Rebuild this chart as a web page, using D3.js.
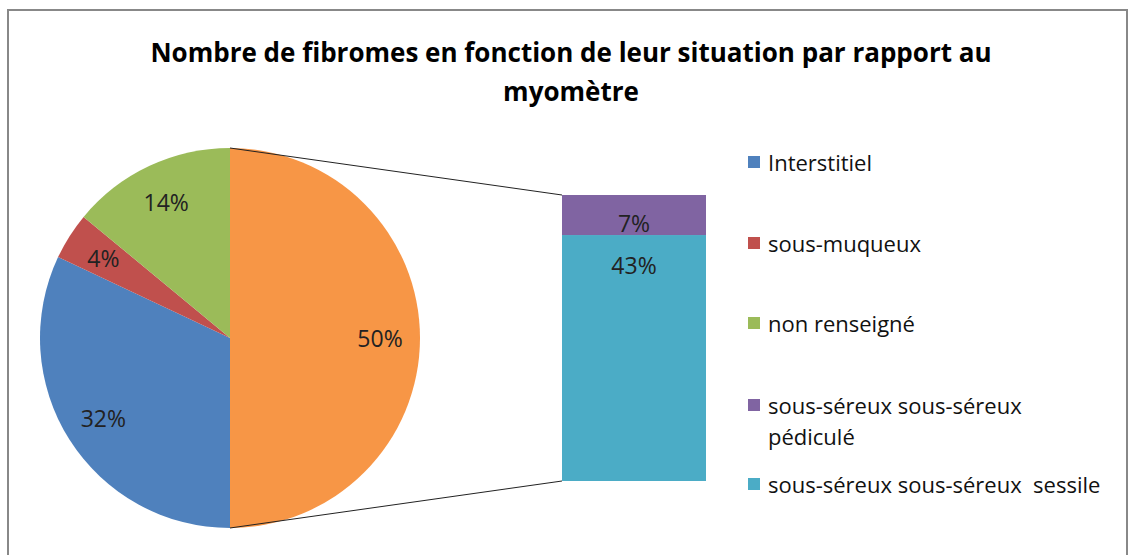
<!DOCTYPE html>
<html>
<head>
<meta charset="utf-8">
<style>
body { margin: 0; background: #fff; }
svg text { font-family: "Open Sans", sans-serif; fill: #000; }
.title { font-size: 26px; font-weight: bold; }
.legend text { font-size: 22px; fill: #111; }
.lbl { font-size: 23px; fill: #222; }
</style>
</head>
<body>
<div id="container"></div>
<script src="https://d3js.org/d3.v7.min.js"></script>
<script>
const width = 1131, height = 555;

// pie slices, clockwise from 12 o'clock ("autre" = the part split into the bar)
const pieNames = ["autre", "Interstitiel", "sous-muqueux", "non renseigné"];
const pieValues = [50, 32, 4, 14];
const pieColors = ["#F79646", "#4F81BD", "#C0504D", "#9BBB59"];

// the bar, bottom to top
const barNames = ["sous-séreux sous-séreux sessile", "sous-séreux sous-séreux pédiculé"];
const barValues = [43, 7];
const barColors = ["#4BACC6", "#8064A2"];

const legendNames = ["Interstitiel", "sous-muqueux", "non renseigné",
  ["sous-séreux sous-séreux", "pédiculé"], "sous-séreux sous-séreux  sessile"];
const legendColors = ["#4F81BD", "#C0504D", "#9BBB59", "#8064A2", "#4BACC6"];

const svg = d3.select('#container').append('svg')
  .attr('width', width).attr('height', height);

// chart frame
svg.append('rect').attr('x', 8).attr('y', 10)
  .attr('width', 1119).attr('height', 560)
  .attr('fill', 'none').attr('stroke', '#888').attr('stroke-width', 2);

const title = svg.append('g').attr('class', 'title');
title.append('text').attr('text-anchor', 'middle')
  .attr('x', 571).attr('y', 62)
  .text('Nombre de fibromes en fonction de leur situation par rapport au');
title.append('text').attr('text-anchor', 'middle')
  .attr('x', 571).attr('y', 101).text('myomètre');

const cx = 230, cy = 338, R = 190;
const pie = d3.pie().sort(null).startAngle(0).endAngle(2 * Math.PI);
const arcs = pie(pieValues);
const arc = d3.arc().innerRadius(0).outerRadius(R);
const lblArc = d3.arc().innerRadius(150).outerRadius(150);

const g = svg.append('g').attr('transform', `translate(${cx},${cy})`);
g.selectAll('path').data(arcs).enter().append('path')
  .attr('d', arc)
  .attr('fill', (d, i) => pieColors[i]);

g.selectAll('text').data(arcs).enter().append('text')
  .attr('class', 'lbl')
  .attr('text-anchor', 'middle').attr('dominant-baseline', 'central')
  .attr('transform', d => `translate(${lblArc.centroid(d)})`)
  .text(d => d.data + '%');

// bar of pie
const barTotal = d3.sum(barValues);
const y = d3.scaleLinear().domain([0, barTotal]).range([481, 195]);
const bx = 562, bw = 144;
let acc = 0;
const stack = barValues.map(v => { const s = { y0: acc, y1: acc + v, v }; acc += v; return s; });

svg.append('g').selectAll('rect').data(stack).enter().append('rect')
  .attr('x', bx).attr('width', bw)
  .attr('y', d => y(d.y1)).attr('height', d => y(d.y0) - y(d.y1))
  .attr('fill', (d, i) => barColors[i]);

// labels: purple at its middle (a bit low), cyan near its top
const barLbl = [y(stack[0].y1) + 30, (y(stack[1].y0) + y(stack[1].y1)) / 2 + 8];
svg.append('g').selectAll('text').data(stack).enter().append('text')
  .attr('class', 'lbl').attr('text-anchor', 'middle').attr('dominant-baseline', 'central')
  .attr('x', bx + bw / 2).attr('y', (d, i) => barLbl[i])
  .text(d => d.v + '%');

// connector lines
const conn = svg.append('g').attr('stroke', '#222').attr('stroke-width', 1);
conn.append('line').attr('x1', cx).attr('y1', cy - R).attr('x2', bx).attr('y2', y(barTotal));
conn.append('line').attr('x1', cx).attr('y1', cy + R).attr('x2', bx).attr('y2', y(0));

// legend
const legY = [162, 243, 323, 405, 484];
const leg = svg.append('g').attr('class', 'legend');
legendNames.forEach((name, i) => {
  leg.append('rect').attr('x', 748).attr('y', legY[i] - 6)
    .attr('width', 12).attr('height', 12).attr('fill', legendColors[i]);
  const lines = Array.isArray(name) ? name : [name];
  lines.forEach((t, j) => {
    leg.append('text').attr('x', 768).attr('y', legY[i] + j * 31)
      .attr('dominant-baseline', 'central')
      .style('white-space', 'pre').text(t);
  });
});
</script>
</body>
</html>
